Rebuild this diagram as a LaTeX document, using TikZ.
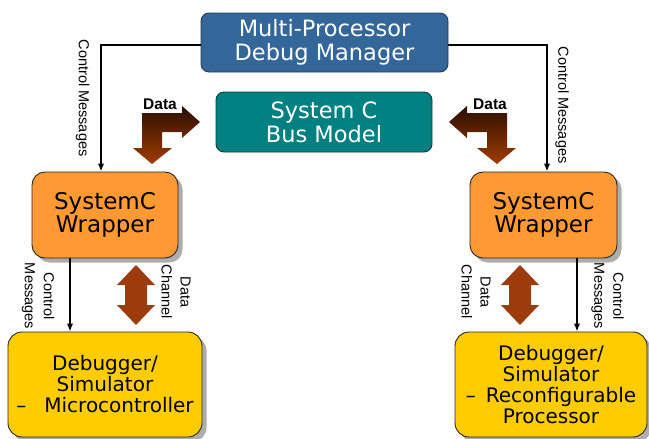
\documentclass[tikz,border=0pt]{standalone}
\usepackage{fontspec}
\setmainfont{DejaVu Sans}
\newfontfamily\labelfont{Liberation Sans}
\usetikzlibrary{arrows.meta,shadows}

\definecolor{mgrblue}{HTML}{336699}
\definecolor{mgrborder}{HTML}{1E3D5E}
\definecolor{busteal}{HTML}{008080}
\definecolor{busborder}{HTML}{0D3B3B}
\definecolor{wraporange}{HTML}{FF9933}
\definecolor{dbgyellow}{HTML}{FFCC00}
\definecolor{arrowdark}{HTML}{2A0E00}
\definecolor{arrowlight}{HTML}{A23C00}
\definecolor{chanedge}{HTML}{9C3C0C}
\definecolor{chanmid}{HTML}{7C2400}

\tikzset{
  box/.style={rectangle, rounded corners=10pt, align=center, inner sep=2pt},
  topbox/.style={box, rounded corners=8pt, text=white, line width=0.9pt},
  mgrbox/.style={topbox, fill=mgrblue, draw=mgrborder,
    font=\fontsize{22.5}{24}\selectfont},
  busbox/.style={topbox, fill=busteal, draw=busborder,
    font=\fontsize{22.5}{24}\selectfont},
  shadowed/.style={drop shadow={shadow xshift=4.5pt, shadow yshift=-4.5pt,
    fill=black!32, opacity=1}},
  wrapbox/.style={box, rounded corners=13pt, fill=wraporange, draw=black!85,
    line width=0.9pt, shadowed, font=\fontsize{23}{23}\selectfont},
  dbgbox/.style={box, rounded corners=14pt, fill=dbgyellow, draw=black!85,
    line width=0.9pt, shadowed, font=\fontsize{20}{21}\selectfont},
  ctrl/.style={line width=1.8pt, -{Latex[length=8pt,width=6.5pt]}},
  sidelabel/.style={rotate=-90, align=center, inner sep=0pt,
    font=\labelfont\fontsize{14.5}{19}\selectfont},
  datalabel/.style={inner sep=1pt, fill=white,
    font=\labelfont\bfseries\fontsize{15.5}{18}\selectfont},
  bentarrow/.style={top color=arrowdark, bottom color=arrowlight},
  chanarrow/.style={left color=chanedge, middle color=chanmid, right color=chanedge}
}

\begin{document}
\begin{tikzpicture}[x=1pt,y=-1pt]
  \useasboundingbox (0,0) rectangle (649,439);

  % boxes
  \node[mgrbox, minimum width=247pt, minimum height=59pt] (mgr) at (324.5,42.5)
    {Multi-Processor\\Debug Manager};
  \node[busbox, minimum width=216pt, minimum height=60pt] (bus) at (324,122)
    {System C\\Bus Model};
  \node[wrapbox, minimum width=146pt, minimum height=86pt] (wrapL) at (105,215)
    {SystemC\\Wrapper};
  \node[wrapbox, minimum width=147pt, minimum height=86pt] (wrapR) at (543.5,215)
    {SystemC\\Wrapper};
  \node[dbgbox, minimum width=194pt, minimum height=105pt] (dbgL) at (105,384.5)
    {Debugger/\\Simulator\\–\hspace{0.9em}Microcontroller};
  \node[dbgbox, minimum width=192pt, minimum height=105pt] (dbgR) at (551,384.5)
    {Debugger/\\Simulator\\–\hspace{0.5em}Reconfigurable\\Processor};

  % control message routes
  \coordinate (upL) at (101,0);
  \coordinate (upR) at (547,0);
  \coordinate (lowL) at (70,0);
  \coordinate (lowR) at (577,0);
  \draw[ctrl] ([yshift=-2.5pt]mgr.west) -| (wrapL.north -| upL);
  \draw[ctrl] ([yshift=-2.5pt]mgr.east) -| (wrapR.north -| upR);
  \draw[ctrl] (wrapL.south -| lowL) -- (dbgL.north -| lowL);
  \draw[ctrl] (wrapR.south -| lowR) -- (dbgR.north -| lowR);

  \node[sidelabel] (cmUL) at (82.5,98) {Control Messages};
  \node[sidelabel] (cmUR) at (562,105) {Control Messages};
  \node[sidelabel] (cmLL) at (38,296) {Control\\Messages};
  \node[sidelabel] (cmLR) at (607.5,296) {Control\\Messages};

  % data paths to the bus model
  \shade[bentarrow] (142,113) -- (182,113) -- (182,106) -- (200,122) -- (182,138)
    -- (182,132) -- (162,132) -- (162,148) -- (172,148) -- (152,164) -- (133,148)
    -- (142,148) -- cycle;
  \shade[bentarrow] (507,113) -- (467,113) -- (467,106) -- (449,122) -- (467,138)
    -- (467,132) -- (487,132) -- (487,148) -- (477,148) -- (497,164) -- (516,148)
    -- (507,148) -- cycle;
  \node[datalabel] (dataL) at (160,104) {Data};
  \node[datalabel] (dataR) at (490,104) {Data};

  % data channels between wrappers and debuggers
  \shade[chanarrow] (136,265) -- (155,285) -- (147,285) -- (147,305) -- (155,305)
    -- (136,325) -- (117,305) -- (125,305) -- (125,285) -- (117,285) -- cycle;
  \shade[chanarrow] (520,265) -- (539,285) -- (531,285) -- (531,305) -- (539,305)
    -- (520,325) -- (501,305) -- (509,305) -- (509,285) -- (501,285) -- cycle;
  \node[sidelabel] (chL) at (176,292) {Data\\Channel};
  \node[sidelabel] (chR) at (476,292) {Data\\Channel};
\end{tikzpicture}
\end{document}
